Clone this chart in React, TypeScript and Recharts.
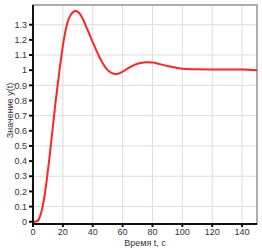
import { LineChart, Line, XAxis, YAxis, CartesianGrid, ReferenceArea } from 'recharts';

// время, с
const times = [
  0, 2, 3.5, 5, 6, 7, 8, 9, 10, 11, 12, 13, 14, 15, 16, 17, 18, 19, 20, 21, 22, 23, 24, 25, 26, 27,
  28.5, 30, 31.5, 33, 34.5, 36, 38, 40, 42, 44, 46, 48, 50, 52, 54, 56, 58, 60, 62, 65, 68, 72, 76,
  80, 85, 90, 95, 100, 110, 120, 130, 140, 150,
];
// значение y(t)
const values = [
  0, 0.002, 0.01, 0.045, 0.08, 0.13, 0.19, 0.26, 0.34, 0.42, 0.51, 0.6, 0.69, 0.78, 0.86, 0.94, 1.02,
  1.09, 1.16, 1.22, 1.27, 1.31, 1.34, 1.36, 1.375, 1.385, 1.39, 1.385, 1.37, 1.345, 1.313, 1.278,
  1.232, 1.185, 1.14, 1.097, 1.058, 1.025, 1.0, 0.985, 0.977, 0.975, 0.98, 0.99, 1.002, 1.02, 1.035,
  1.047, 1.052, 1.05, 1.04, 1.028, 1.017, 1.01, 1.006, 1.005, 1.005, 1.004, 1.0,
];
const xTicks = [0, 20, 40, 60, 80, 100, 120, 140];
const yTicks = [0, 0.1, 0.2, 0.3, 0.4, 0.5, 0.6, 0.7, 0.8, 0.9, 1, 1.1, 1.2, 1.3];
const xDomain = [0, 150];
const yDomain = [-0.015, 1.43];

const data = times.map((t, i) => ({ t, y: values[i] }));

const font = '"Liberation Sans", Arial, sans-serif';
const tickStyle = { fontSize: 9, fill: '#333', fontFamily: font };

const YLabel = ({ viewBox }: any) => {
  const x = viewBox.x + 10;
  const y = viewBox.y + viewBox.height / 2 - 4;
  return (
    <text
      x={x}
      y={y}
      transform={`rotate(-90, ${x}, ${y})`}
      textAnchor="middle"
      dominantBaseline="central"
      fontSize={9}
      fill="#333"
      fontFamily={font}
    >
      Значение y(t)
    </text>
  );
};

export default function App() {
  return (
    <div style={{ position: 'absolute', left: 0, top: 0, background: '#fff' }}>
      <LineChart width={262} height={250} data={data} margin={{ top: 5, right: 5, left: 0, bottom: 0 }}>
        <CartesianGrid stroke="#dcdcdc" strokeWidth={1} />
        <ReferenceArea
          x1={xDomain[0]}
          x2={xDomain[1]}
          y1={yDomain[0]}
          y2={yDomain[1]}
          fill="none"
          stroke="#999"
          strokeWidth={1.5}
          ifOverflow="visible"
        />
        <XAxis
          dataKey="t"
          type="number"
          domain={xDomain}
          ticks={xTicks}
          allowDataOverflow
          height={26}
          stroke="#111"
          strokeWidth={2}
          tickSize={3}
          tickMargin={2}
          tick={tickStyle}
          label={{ value: 'Время t, с', position: 'insideBottom', offset: 4, fontSize: 9, fill: '#333', fontFamily: font }}
        />
        <YAxis
          type="number"
          domain={yDomain}
          ticks={yTicks}
          allowDataOverflow
          width={33}
          stroke="#111"
          strokeWidth={2}
          tickSize={4}
          tickMargin={2}
          tick={tickStyle}
          tickFormatter={(v: number) => String(Math.round(v * 10) / 10)}
          label={<YLabel />}
        />
        <Line
          type="monotone"
          dataKey="y"
          stroke="#ff2424"
          strokeWidth={2}
          dot={false}
          isAnimationActive={false}
        />
      </LineChart>
    </div>
  );
}
